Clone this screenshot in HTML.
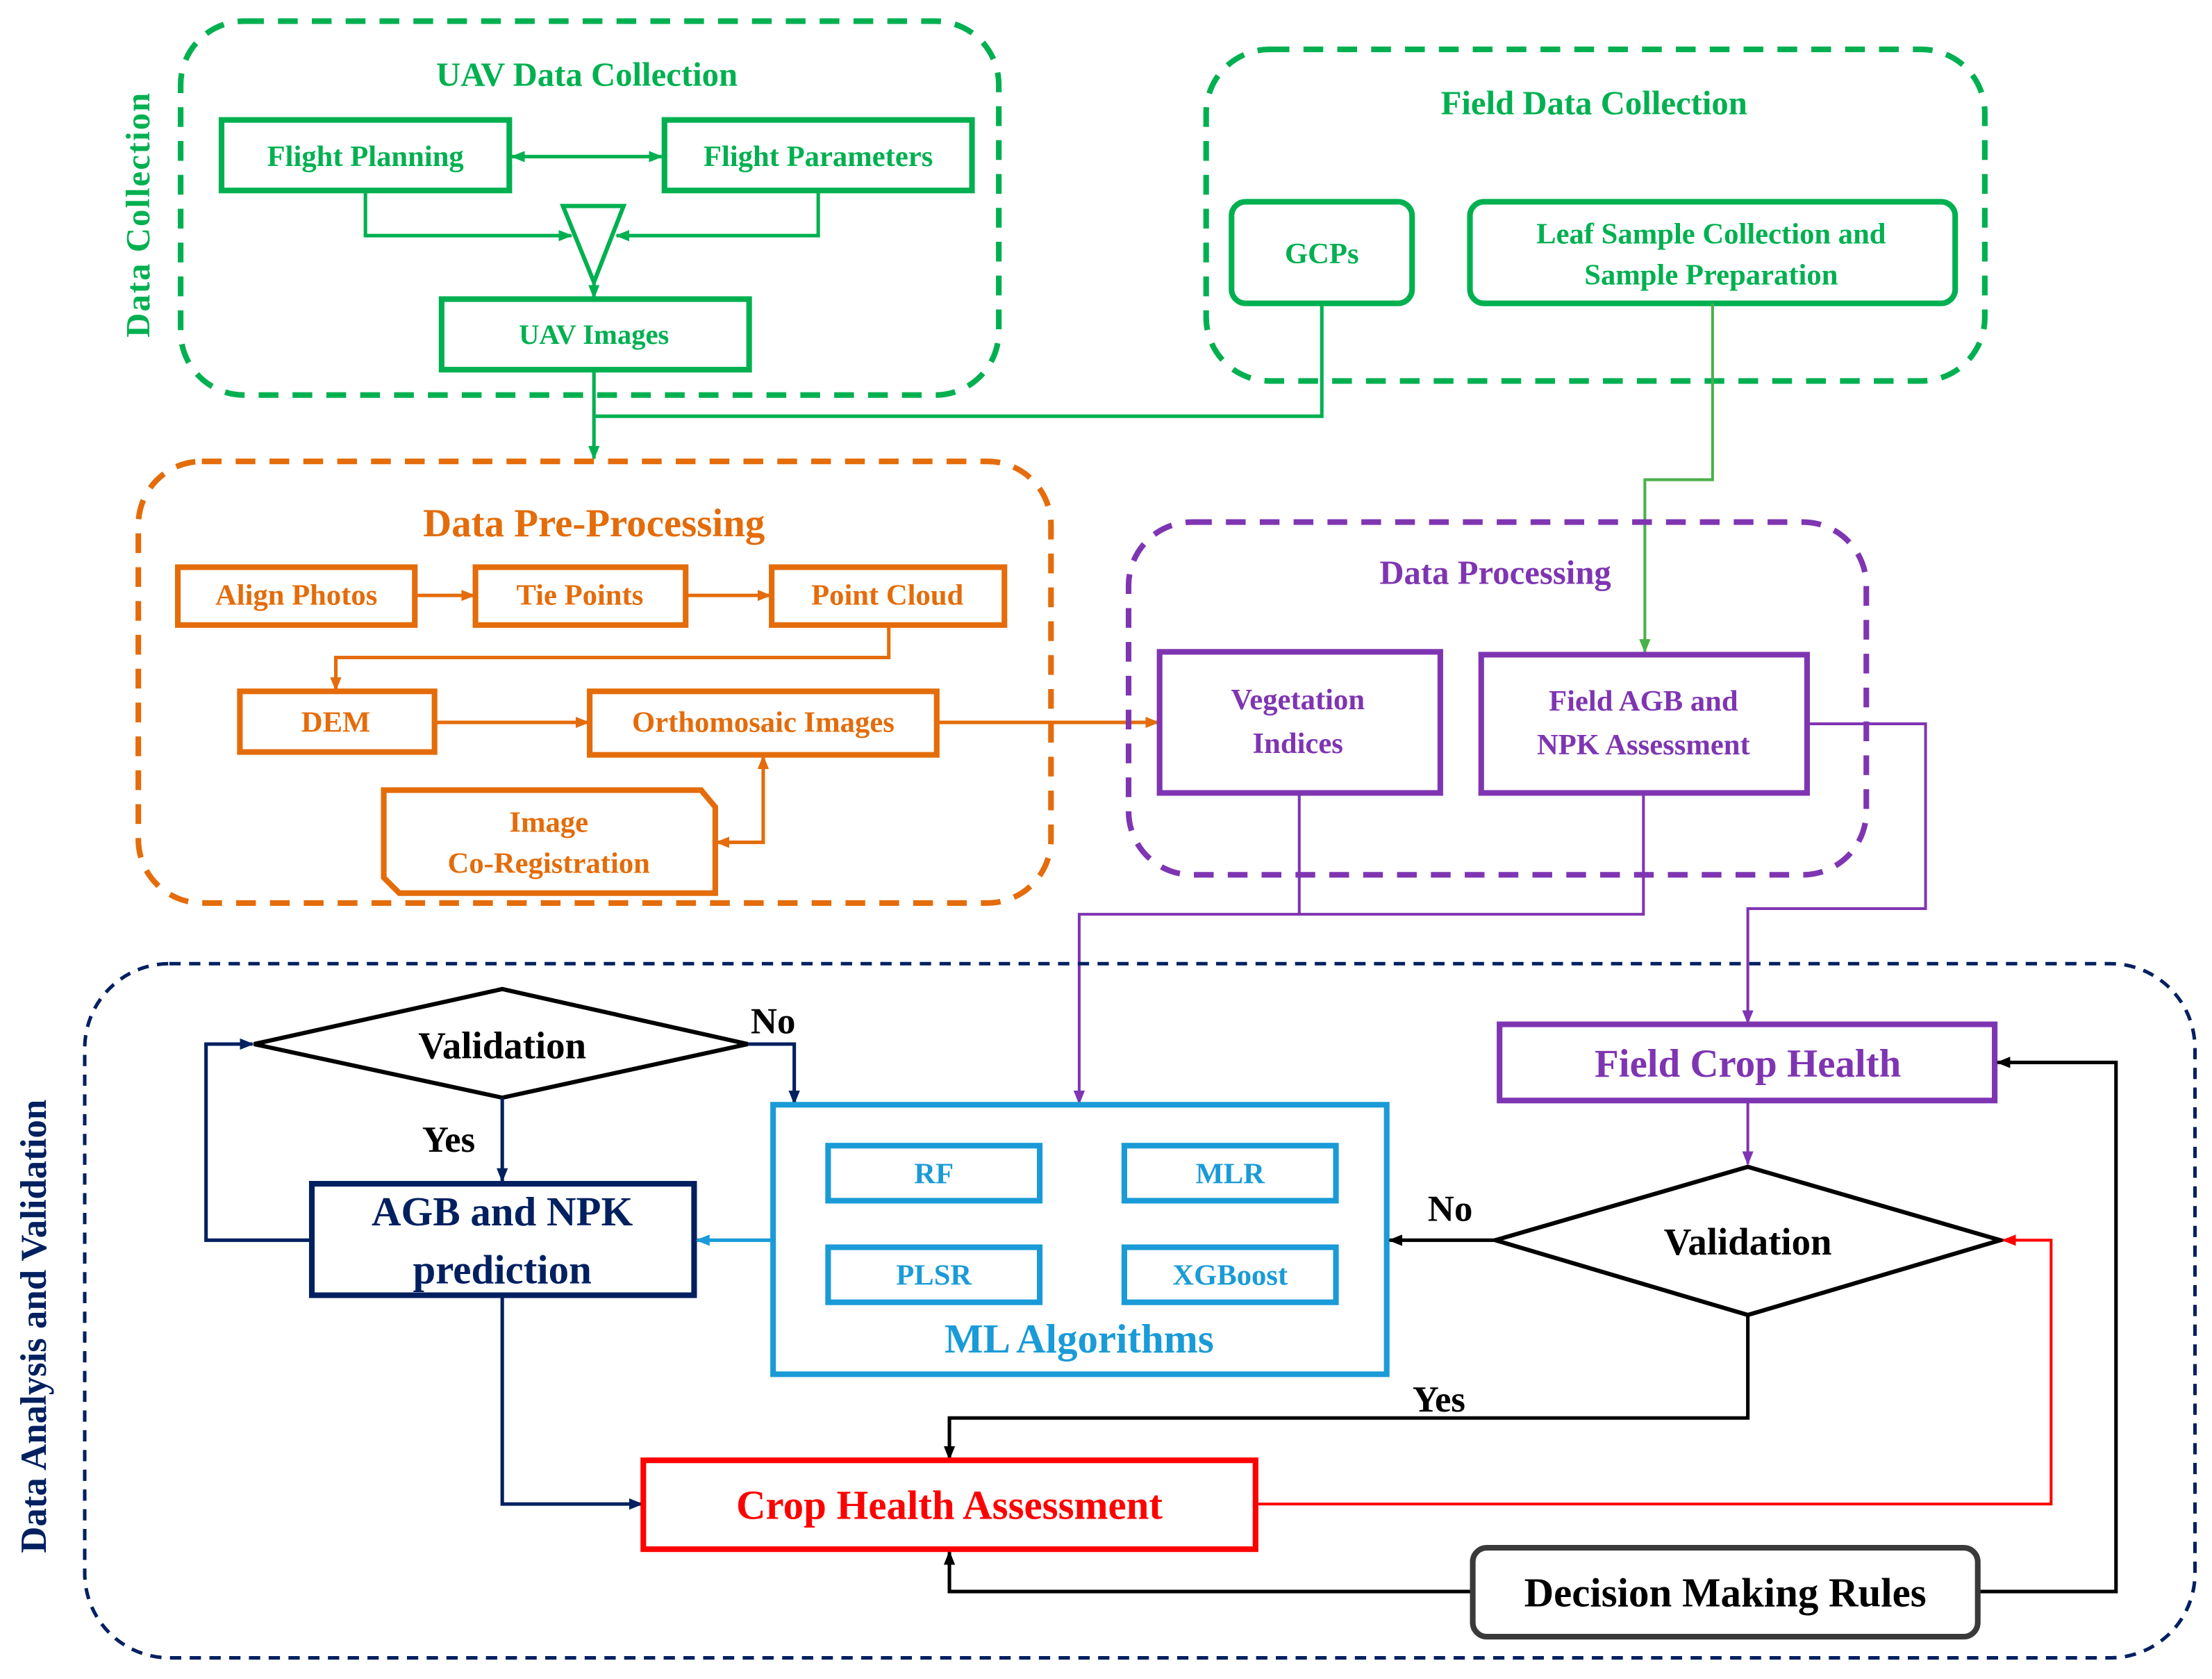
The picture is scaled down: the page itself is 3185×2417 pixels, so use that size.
<!DOCTYPE html>
<html><head><meta charset="utf-8"><style>
html,body{margin:0;padding:0;background:#fff}
svg{display:block}
svg text{font-family:"Liberation Serif","Times New Roman","DejaVu Serif",serif;font-weight:bold;text-anchor:middle;dominant-baseline:central}
</style></head><body>
<svg width="3185" height="2417" viewBox="0 0 1568 1190" xmlns="http://www.w3.org/2000/svg" font-family="Liberation Serif, serif">
<defs>
<marker id="ag" markerWidth="10" markerHeight="10" refX="9" refY="5" orient="auto-start-reverse" markerUnits="userSpaceOnUse"><path d="M0,1 L10,5 L0,9z" fill="#00b050"/></marker>
<marker id="ag2" markerWidth="10" markerHeight="10" refX="9" refY="5" orient="auto" markerUnits="userSpaceOnUse"><path d="M0,1 L10,5 L0,9z" fill="#4ab04a"/></marker>
<marker id="ao" markerWidth="10" markerHeight="10" refX="9" refY="5" orient="auto-start-reverse" markerUnits="userSpaceOnUse"><path d="M0,1 L10,5 L0,9z" fill="#e46c0a"/></marker>
<marker id="ap" markerWidth="10" markerHeight="10" refX="9" refY="5" orient="auto" markerUnits="userSpaceOnUse"><path d="M0,1 L10,5 L0,9z" fill="#7f35b2"/></marker>
<marker id="an" markerWidth="10" markerHeight="10" refX="9" refY="5" orient="auto" markerUnits="userSpaceOnUse"><path d="M0,1 L10,5 L0,9z" fill="#002060"/></marker>
<marker id="ab" markerWidth="10" markerHeight="10" refX="9" refY="5" orient="auto" markerUnits="userSpaceOnUse"><path d="M0,1 L10,5 L0,9z" fill="#1a9bd7"/></marker>
<marker id="ak" markerWidth="10" markerHeight="10" refX="9" refY="5" orient="auto" markerUnits="userSpaceOnUse"><path d="M0,1 L10,5 L0,9z" fill="#000"/></marker>
<marker id="ar" markerWidth="10" markerHeight="10" refX="9" refY="5" orient="auto" markerUnits="userSpaceOnUse"><path d="M0,1 L10,5 L0,9z" fill="#ff0000"/></marker>
</defs>

<g fill="none" stroke="#00b050">
<rect x="128" y="15" width="580" height="265" rx="45" stroke-width="4" stroke-dasharray="14,10"/>
<rect x="855" y="35" width="552" height="235" rx="45" stroke-width="4" stroke-dasharray="14,10"/>
<rect x="157" y="85" width="204" height="50" stroke-width="4"/>
<rect x="471" y="85" width="218" height="50" stroke-width="4"/>
<rect x="313" y="212" width="218" height="50" stroke-width="4"/>
<rect x="873" y="143" width="128" height="72" rx="10" stroke-width="4"/>
<rect x="1042" y="143" width="344" height="72" rx="10" stroke-width="4"/>
<polygon points="399,146 442,146 421,200" stroke-width="3"/>
<g stroke-width="2.5">
<line x1="363" y1="111" x2="469" y2="111" marker-start="url(#ag)" marker-end="url(#ag)"/>
<polyline points="259,135 259,167 405,167" marker-end="url(#ag)"/>
<polyline points="580,135 580,167 437,167" marker-end="url(#ag)"/>
<line x1="421" y1="200" x2="421" y2="211" marker-end="url(#ag)"/>
<line x1="421" y1="262" x2="421" y2="325" marker-end="url(#ag)"/>
<polyline points="421,295 937,295 937,215"/>
</g>
<polyline points="1214,215 1214,340 1166,340 1166,462" stroke="#4ab04a" stroke-width="2" marker-end="url(#ag2)"/>
</g>
<g fill="#00b050">
<text x="98" y="152" font-size="24" transform="rotate(-90 98 152)" style="letter-spacing:1px">Data Collection</text>
<text x="416" y="53" font-size="24">UAV Data Collection</text>
<text x="259" y="111" font-size="21">Flight Planning</text>
<text x="580" y="111" font-size="21">Flight Parameters</text>
<text x="421" y="237" font-size="20">UAV Images</text>
<text x="1130" y="73" font-size="24">Field Data Collection</text>
<text x="937" y="180" font-size="21">GCPs</text>
<text x="1213" y="166" font-size="21">Leaf Sample Collection  and</text>
<text x="1213" y="195" font-size="21">Sample Preparation</text>
</g>

<g fill="none" stroke="#e46c0a">
<rect x="98" y="327" width="647" height="313" rx="45" stroke-width="4" stroke-dasharray="14,10"/>
<g stroke-width="4">
<rect x="126" y="402" width="168" height="41"/>
<rect x="337" y="402" width="149" height="41"/>
<rect x="547" y="402" width="165" height="41"/>
<rect x="170" y="490" width="138" height="43"/>
<rect x="418" y="490" width="246" height="45"/>
<polygon points="272,560 497,560 507,572 507,633 283,633 272,622"/>
</g>
<g stroke-width="2.5">
<line x1="294" y1="422" x2="336" y2="422" marker-end="url(#ao)"/>
<line x1="486" y1="422" x2="546" y2="422" marker-end="url(#ao)"/>
<polyline points="630,443 630,466 238,466 238,489" marker-end="url(#ao)"/>
<line x1="308" y1="512" x2="417" y2="512" marker-end="url(#ao)"/>
<line x1="664" y1="512" x2="821" y2="512" marker-end="url(#ao)"/>
<polyline points="508,597 541,597 541,536" marker-start="url(#ao)" marker-end="url(#ao)"/>
</g>
</g>
<g fill="#e46c0a">
<text x="421" y="371" font-size="28">Data Pre-Processing</text>
<text x="210" y="422" font-size="21">Align Photos</text>
<text x="411" y="422" font-size="21">Tie Points</text>
<text x="629" y="422" font-size="21">Point Cloud</text>
<text x="238" y="512" font-size="21">DEM</text>
<text x="541" y="512" font-size="21">Orthomosaic Images</text>
<text x="389" y="583" font-size="21">Image</text>
<text x="389" y="612" font-size="21">Co-Registration</text>
</g>

<g fill="none" stroke="#7f35b2">
<rect x="800" y="370" width="523" height="250" rx="45" stroke-width="4" stroke-dasharray="14,10"/>
<rect x="822" y="462" width="199" height="100" stroke-width="4"/>
<rect x="1050" y="464" width="231" height="98" stroke-width="4"/>
<rect x="1063" y="726" width="351" height="54" stroke-width="4"/>
<g stroke-width="2">
<polyline points="921,562 921,648"/>
<polyline points="1165,562 1165,648 765,648 765,782" marker-end="url(#ap)"/>
<polyline points="1281,513 1365,513 1365,644 1239,644 1239,725" marker-end="url(#ap)"/>
<line x1="1239" y1="780" x2="1239" y2="825" marker-end="url(#ap)"/>
</g>
</g>
<g fill="#7f35b2">
<text x="1060" y="406" font-size="24">Data Processing</text>
<text x="920" y="496" font-size="21">Vegetation</text>
<text x="920" y="527" font-size="21">Indices</text>
<text x="1165" y="497" font-size="21">Field AGB and</text>
<text x="1165" y="528" font-size="21">NPK Assessment</text>
<text x="1239" y="754" font-size="28">Field Crop Health</text>
</g>

<rect x="60" y="683" width="1496" height="492" rx="60" fill="none" stroke="#002060" stroke-width="2.5" stroke-dasharray="8,6"/>
<text x="24" y="940" font-size="26" fill="#002060" transform="rotate(-90 24 940)">Data Analysis and Validation</text>

<polygon points="180,740 356,701 530,740 356,778" fill="none" stroke="#000" stroke-width="3"/>
<text x="356" y="741" font-size="27">Validation</text>
<text x="548" y="724" font-size="26">No</text>
<text x="318" y="808" font-size="26">Yes</text>
<g fill="none" stroke="#002060" stroke-width="2.5">
<polyline points="530,740 563,740 563,782" marker-end="url(#an)"/>
<line x1="356" y1="778" x2="356" y2="837" marker-end="url(#an)"/>
<rect x="221" y="839" width="271" height="79" stroke-width="4"/>
<polyline points="221,879 146,879 146,740 179,740" marker-end="url(#an)"/>
<polyline points="356,918 356,1066 455,1066" marker-end="url(#an)"/>
</g>
<g fill="#002060">
<text x="356" y="859" font-size="29">AGB and NPK</text>
<text x="356" y="900" font-size="29">prediction</text>
</g>

<g fill="none" stroke="#1a9bd7">
<rect x="548" y="783" width="435" height="191" stroke-width="4"/>
<rect x="587" y="812" width="150" height="39" stroke-width="4"/>
<rect x="797" y="812" width="150" height="39" stroke-width="4"/>
<rect x="587" y="884" width="150" height="39" stroke-width="4"/>
<rect x="797" y="884" width="150" height="39" stroke-width="4"/>
<line x1="548" y1="879" x2="494" y2="879" stroke-width="2.5" marker-end="url(#ab)"/>
</g>
<g fill="#1a9bd7">
<text x="662" y="832" font-size="21">RF</text>
<text x="872" y="832" font-size="21">MLR</text>
<text x="662" y="904" font-size="21">PLSR</text>
<text x="872" y="904" font-size="21">XGBoost</text>
<text x="765" y="949" font-size="29">ML Algorithms</text>
</g>

<polygon points="1060,879 1239,827 1418,879 1239,932" fill="none" stroke="#000" stroke-width="3"/>
<text x="1239" y="880" font-size="27">Validation</text>
<text x="1028" y="857" font-size="26">No</text>
<text x="1020" y="992" font-size="26">Yes</text>
<g fill="none" stroke="#000" stroke-width="2.5">
<line x1="1060" y1="879" x2="985" y2="879" marker-end="url(#ak)"/>
<polyline points="1239,932 1239,1005 673,1005 673,1034" marker-end="url(#ak)"/>
<polyline points="1044,1128 673,1128 673,1100" marker-end="url(#ak)"/>
<polyline points="1402,1128 1500,1128 1500,753 1416,753" marker-end="url(#ak)"/>
<rect x="1044" y="1097" width="358" height="63" rx="10" stroke="#3a3a3a" stroke-width="4"/>
</g>
<text x="1223" y="1129" font-size="29">Decision Making Rules</text>

<rect x="456" y="1035" width="434" height="63" fill="none" stroke="#ff0000" stroke-width="4"/>
<text x="673" y="1067" font-size="29" fill="#ff0000">Crop Health Assessment</text>
<polyline points="890,1066 1454,1066 1454,879 1420,879" fill="none" stroke="#ff0000" stroke-width="2" marker-end="url(#ar)"/>
</svg>
</body></html>
